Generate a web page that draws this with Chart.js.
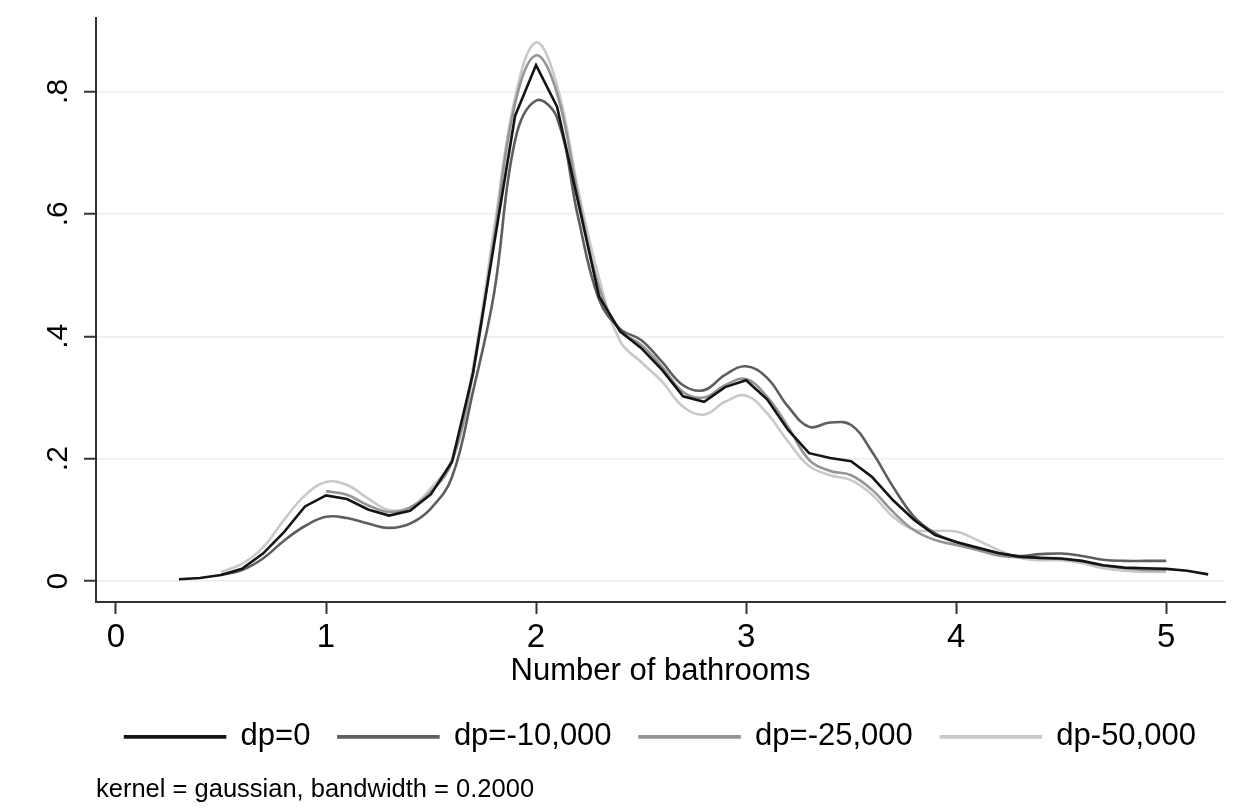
<!DOCTYPE html>
<html>
<head>
<meta charset="utf-8">
<script src="https://cdn.jsdelivr.net/npm/chart.js@4.4.0/dist/chart.umd.min.js"></script>
<style>
  html, body { margin: 0; padding: 0; background: #fff; }
  #wrap { width: 1248px; height: 810px; }
</style>
</head>
<body>
<div id="wrap"><canvas id="chart"></canvas></div>
<script>
// x grid of the density estimates (number of bathrooms)
const xs = [0.3, 0.4, 0.5, 0.6, 0.7, 0.8, 0.9, 1.0, 1.1, 1.2,
            1.3, 1.4, 1.5, 1.6, 1.7, 1.8, 1.9, 2.0, 2.1, 2.2,
            2.3, 2.4, 2.5, 2.6, 2.7, 2.8, 2.9, 3.0, 3.1, 3.2,
            3.3, 3.4, 3.5, 3.6, 3.7, 3.8, 3.9, 4.0, 4.1, 4.2,
            4.3, 4.4, 4.5, 4.6, 4.7, 4.8, 4.9, 5.0, 5.1, 5.2];

const dp0 = [.003, .005, .010, .020, .045, .080, .122, .140, .134, .117,
             .107, .115, .142, .195, .340, .550, .760, .843, .775, .620,
             .465, .408, .381, .345, .302, .293, .317, .328, .297, .247,
             .209, .201, .196, .170, .132, .100, .075, .064, .055, .046,
             .040, .038, .037, .033, .026, .022, .021, .020, .017, .011];

const dp10 = [null, null, .010, .018, .037, .066, .090, .105, .103, .094,
              .087, .094, .119, .170, .310, .470, .720, .785, .757, .595,
              .460, .412, .394, .358, .320, .312, .337, .351, .332, .285,
              .252, .259, .255, .211, .154, .105, .078, .064, .054, .046,
              .041, .044, .045, .041, .035, .033, .033, .033, null, null];

const dp25 = [null, null, null, null, null, null, null, .147, .141, .124,
              .113, .120, .146, .195, .340, .560, .780, .859, .797, .630,
              .480, .410, .386, .350, .309, .300, .320, .330, .301, .252,
              .198, .180, .173, .149, .113, .083, .067, .059, .051, .042,
              .039, .038, .036, .032, .025, .021, .018, .018, null, null];

const dp50 = [null, null, .015, .028, .055, .100, .140, .162, .157, .135,
              .116, .121, .152, .200, .350, .575, .790, .880, .810, .640,
              .495, .392, .358, .326, .285, .272, .293, .303, .274, .228,
              .188, .173, .165, .141, .105, .084, .082, .081, .067, .051,
              .038, .034, .034, .029, .021, .017, .015, .015, null, null];

const seriesNames = ['dp=0', 'dp=-10,000', 'dp=-25,000', 'dp-50,000'];
const xTicks = [0, 1, 2, 3, 4, 5];
const yTicks = [0, 0.2, 0.4, 0.6, 0.8];
const xTitle = 'Number of bathrooms';
const note = 'kernel = gaussian, bandwidth = 0.2000';

const FONT = "'Liberation Sans', Arial, sans-serif";

function toPoints(ys) {
    return xs.map((x, i) => ({ x: x, y: ys[i] })).filter(p => p.y !== null);
}

// the dp=0 estimate is drawn point to point, the others are smooth
function line(label, values, color, smooth) {
    return {
        label: label,
        data: toPoints(values),
        borderColor: color,
        backgroundColor: color,
        borderWidth: 2.6,
        pointRadius: 0,
        fill: false,
        tension: smooth ? 0.4 : 0
    };
}

const ctx = document.getElementById('chart').getContext('2d');

const chart = new Chart(ctx, {
    type: 'line',
    data: {
        datasets: [
            line(seriesNames[0], dp0, '#141414', false),
            line(seriesNames[1], dp10, '#5e5e5e', true),
            line(seriesNames[2], dp25, '#949494', true),
            line(seriesNames[3], dp50, '#c9c9c9', true)
        ]
    },
    options: {
        responsive: true,
        maintainAspectRatio: false,
        animation: false,
        layout: { padding: { left: 40, right: 23, top: 18, bottom: 0 } },
        scales: {
            x: {
                type: 'linear',
                min: -0.095,
                max: 5.28,
                afterBuildTicks: s => { s.ticks = xTicks.map(v => ({ value: v })); },
                afterFit: s => { s.height = 91.5; s.paddingLeft = 0; s.paddingRight = 0; },
                grid: { drawOnChartArea: false, tickLength: 12, tickColor: '#333', tickWidth: 2 },
                border: { display: true, color: '#333', width: 2 },
                ticks: {
                    color: '#000', padding: 8, maxRotation: 0, autoSkip: false,
                    font: { family: FONT, size: 33, lineHeight: 1 },
                    callback: v => String(v)
                },
                title: {
                    display: true, text: xTitle, color: '#000', padding: { top: 0, bottom: 6 },
                    font: { family: FONT, size: 31, lineHeight: 1 }
                }
            },
            y: {
                type: 'linear',
                min: -0.034,
                max: 0.92,
                afterBuildTicks: s => { s.ticks = yTicks.map(v => ({ value: v })); },
                afterFit: s => { s.width = 56; s.paddingTop = 0; s.paddingBottom = 0; },
                grid: { color: '#e8f0f2', lineWidth: 1.5, tickLength: 12, tickColor: '#333', tickWidth: 2 },
                border: { display: true, color: '#333', width: 2 },
                ticks: {
                    color: '#000', padding: 13, minRotation: 90, maxRotation: 90, crossAlign: 'center',
                    font: { family: FONT, size: 30 },
                    callback: v => v === 0 ? '0' : v.toFixed(1).replace(/^0/, '')
                }
            }
        },
        plugins: {
            legend: {
                position: 'bottom',
                fullSize: false,
                labels: {
                    boxWidth: 100, boxHeight: 1, padding: 28, color: '#000',
                    font: { family: FONT, size: 31 }
                }
            },
            title: {
                display: true, position: 'bottom', align: 'start', fullSize: false,
                text: note, color: '#000',
                font: { family: FONT, size: 25.5, weight: 'normal', lineHeight: 1.2 },
                padding: { top: 12, bottom: 5 }
            },
            tooltip: { enabled: false }
        }
    }
});
</script>
</body>
</html>
